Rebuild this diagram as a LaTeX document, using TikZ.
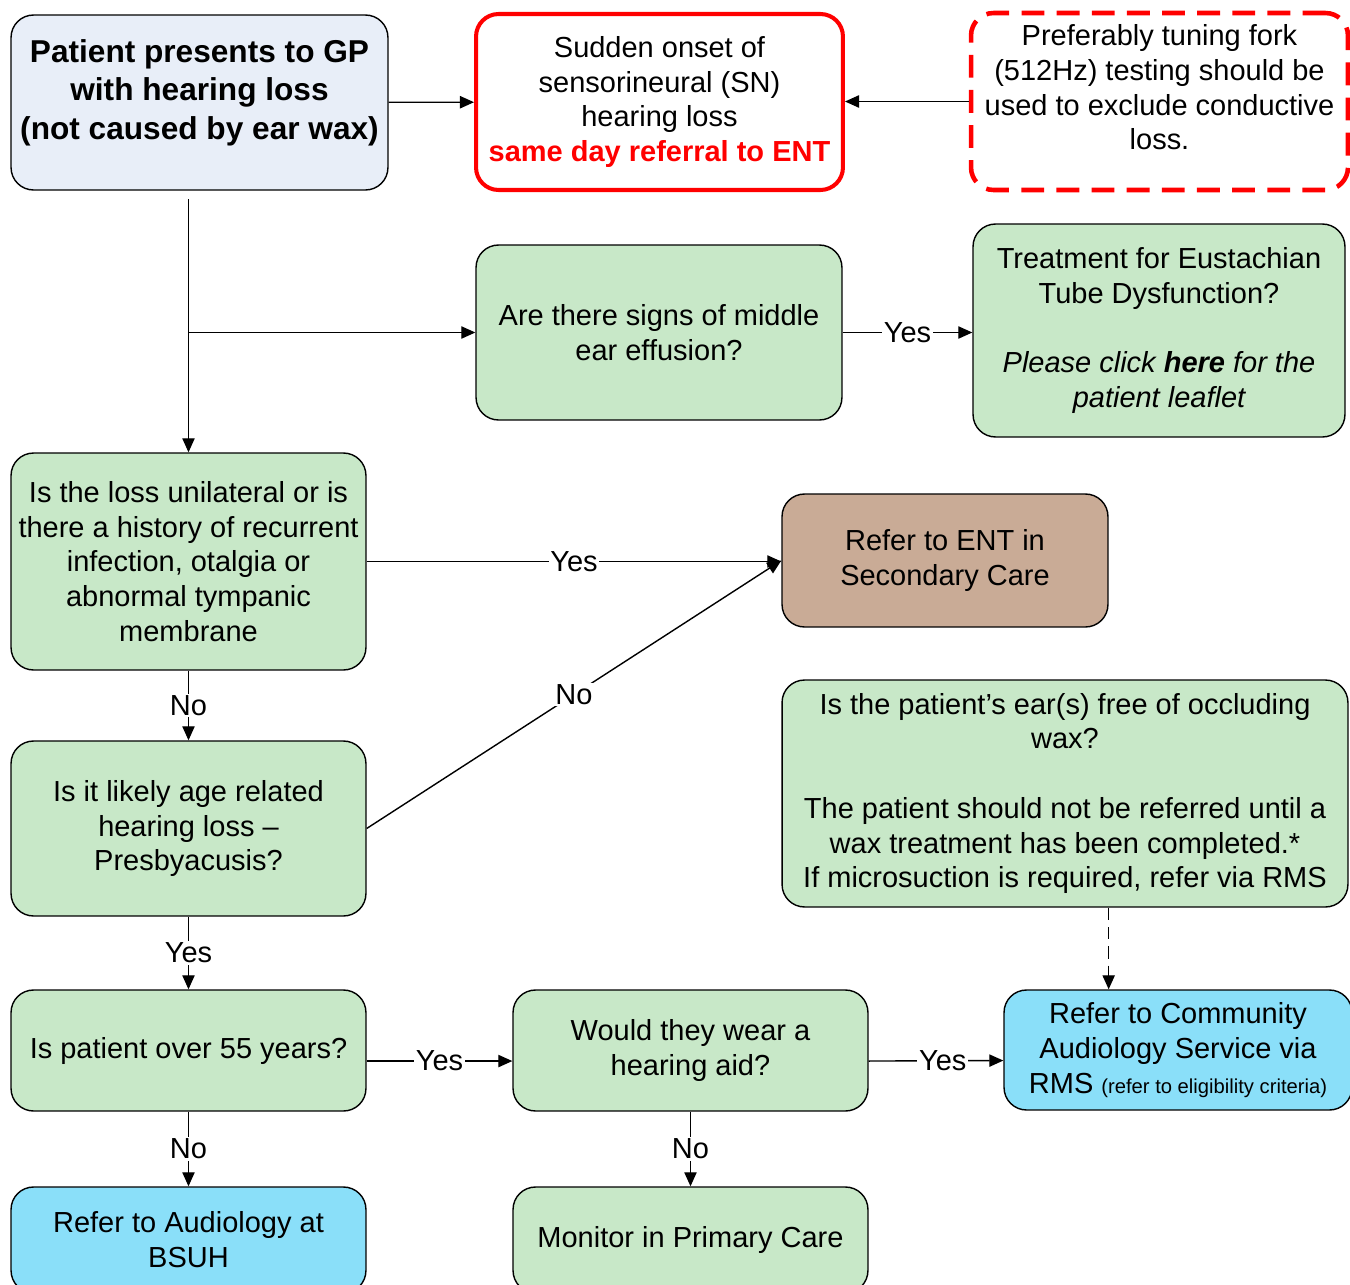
\documentclass[tikz,border=0pt]{standalone}
\usepackage{fontspec}
\setmainfont{Liberation Sans}
\usetikzlibrary{arrows.meta}
\definecolor{startfill}{HTML}{E8EEF8}
\definecolor{qgreen}{HTML}{C8E8C8}
\definecolor{enttan}{HTML}{C9AB96}
\definecolor{refblue}{HTML}{8ADFF9}
\definecolor{alertred}{HTML}{FF0000}

\begin{document}
\begin{tikzpicture}[x=0.02cm,y=-0.02cm,
    box/.style={draw=black,line width=0.8pt,rounded corners=0.45cm,align=center,
      inner sep=2pt,font=\fontsize{16.5}{19.8}\selectfont},
    qbox/.style={box,fill=qgreen},
    refbox/.style={box,fill=refblue},
    arr/.style={line width=0.8pt,-{Triangle[length=8pt,width=7pt]}},
    lab/.style={fill=white,inner sep=1pt,font=\fontsize{16.5}{19.8}\selectfont}]
  \useasboundingbox (0,0) rectangle (1350,1285);

  % top row
  \node[box,fill=startfill,minimum width=7.54cm,minimum height=3.5cm,
    font=\fontsize{18}{22}\selectfont\bfseries] (patient) at (199.5,102.5)
    {Patient presents to GP\\with hearing loss\\(not caused by ear wax)\\[-7pt]};
  \node[box,draw=alertred,line width=2.3pt,fill=white,minimum width=7.34cm,minimum height=3.52cm] (sudden) at (659.5,102)
    {Sudden onset of\\sensorineural (SN)\\hearing loss\\{\color{alertred}\bfseries same day referral to ENT}};
  \node[box,draw=alertred,line width=2.6pt,dash pattern=on 13pt off 7pt,fill=white,
    minimum width=7.54cm,minimum height=3.54cm] (fork) at (1159.5,101.5)
    {Preferably tuning fork\\(512Hz) testing should be\\used to exclude conductive\\loss.\\[-3.5pt]};

  % questions
  \node[qbox,minimum width=7.32cm,minimum height=3.5cm] (effusion) at (659,332.5)
    {Are there signs of middle\\ear effusion?};
  \node[qbox,minimum width=7.44cm,minimum height=4.26cm] (eustachian) at (1159,330.5)
    {Treatment for Eustachian\\Tube Dysfunction?\\[19.8pt]\itshape Please click \textbf{here} for the\\\itshape patient leaflet};
  \node[qbox,minimum width=7.1cm,minimum height=4.34cm] (unilateral) at (188.5,561.5)
    {Is the loss unilateral or is\\there a history of recurrent\\infection, otalgia or\\abnormal tympanic\\membrane};
  \node[box,fill=enttan,minimum width=6.52cm,minimum height=2.66cm] (entref) at (945,560.5)
    {Refer to ENT in\\Secondary Care};
  \node[qbox,minimum width=11.32cm,minimum height=4.54cm] (wax) at (1065,793.5)
    {Is the patient’s ear(s) free of occluding\\wax?\\[19.8pt]The patient should not be referred until a\\wax treatment has been completed.*\\If microsuction is required, refer via RMS};
  \node[qbox,minimum width=7.1cm,minimum height=3.5cm] (presby) at (188.5,828.5)
    {Is it likely age related\\hearing loss --\\Presbyacusis?};
  \node[qbox,minimum width=7.1cm,minimum height=2.42cm] (over55) at (188.5,1050.5)
    {Is patient over 55 years?};
  \node[qbox,minimum width=7.1cm,minimum height=2.42cm] (hearaid) at (690.5,1050.5)
    {Would they wear a\\hearing aid?};
  \node[refbox,minimum width=6.96cm,minimum height=2.4cm] (community) at (1178,1050)
    {Refer to Community\\Audiology Service via\\RMS {\fontsize{11.5}{14}\selectfont(refer to eligibility criteria)}};

  % outcomes
  \node[refbox,minimum width=7.1cm,minimum height=2.12cm] (bsuh) at (188.5,1240)
    {Refer to Audiology at\\BSUH};
  \node[qbox,minimum width=7.1cm,minimum height=2.12cm] (monitor) at (690.5,1240)
    {Monitor in Primary Care};

  % connectors
  \draw[arr] (patient) -- (sudden);
  \draw[arr] (fork.west) -- (fork.west -| sudden.east);
  \draw[arr] ([yshift=-5pt]unilateral.north |- patient.south) -- (unilateral.north);
  \draw[arr] (unilateral.north |- effusion.west) -- (effusion.west);
  \draw[arr] (effusion.east) -- node[lab] {Yes} (effusion.east -| eustachian.west);
  \draw[arr] (unilateral.east) -- node[lab] {Yes} (unilateral.east -| entref.west);
  \draw[arr] (unilateral) -- node[lab] {No} (presby);
  \draw[arr] (presby.east) -- node[lab] {No} (entref.west);
  \draw[arr] (presby) -- node[lab] {Yes} (over55);
  \draw[arr] ([yshift=-6pt]over55.east) -- node[lab] {Yes} ([yshift=-6pt]hearaid.west);
  \draw[arr] ([yshift=-6pt]hearaid.east) -- node[lab,pos=0.55] {Yes} ([yshift=-6pt]community.west);
  \draw[arr,dash pattern=on 7pt off 4pt] (entref.east |- wax.south) -- (entref.east |- community.north);
  \draw[arr] (over55) -- node[lab] {No} (bsuh);
  \draw[arr] (hearaid) -- node[lab] {No} (monitor);
\end{tikzpicture}
\end{document}
